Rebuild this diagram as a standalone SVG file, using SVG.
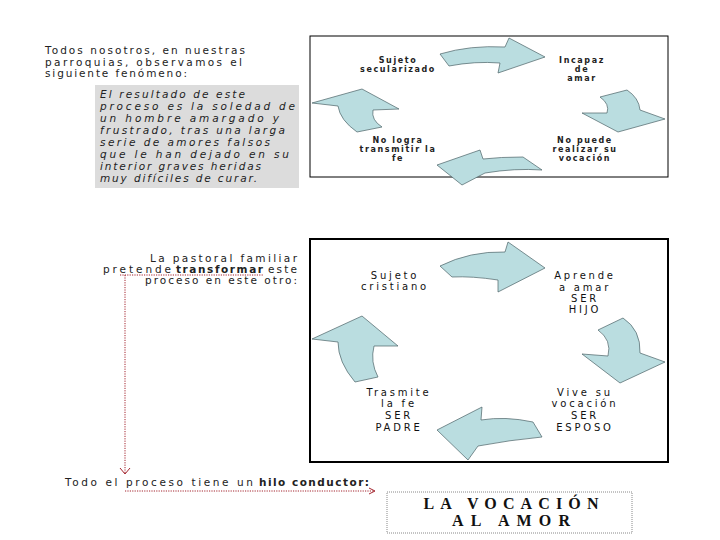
<svg xmlns="http://www.w3.org/2000/svg" width="720" height="540" viewBox="0 0 720 540">
<style>
.para{font-family:"DejaVu Sans",sans-serif;font-size:10.5px;fill:#222}
.ital{font-family:"DejaVu Sans",sans-serif;font-size:10.5px;font-style:italic;fill:#222}
.b{font-weight:bold}
.l1{font-family:"DejaVu Sans",sans-serif;font-size:8px;font-weight:bold;fill:#222;text-anchor:middle;letter-spacing:1.6px}
.l2{font-family:"DejaVu Sans",sans-serif;font-size:10px;fill:#111;text-anchor:middle;letter-spacing:2.8px}
.arr{fill:#badde0;stroke:#4a6266;stroke-width:0.7;stroke-linejoin:round}
.dot{fill:none;stroke:#a3242e;stroke-width:1;stroke-dasharray:1.2 1.2}
.title{font-family:"Liberation Serif",serif;font-size:16px;font-weight:bold;fill:#111;text-anchor:middle}
</style>
<rect width="720" height="540" fill="#fff"/>

<g id="intro">
<text class="para" x="45" y="54" textLength="200" lengthAdjust="spacing">Todos nosotros, en nuestras</text>
<text class="para" x="45" y="65.7" textLength="197" lengthAdjust="spacing">parroquias, observamos el</text>
<text class="para" x="45" y="77.4" textLength="142" lengthAdjust="spacing">siguiente fenómeno:</text>
</g>

<g id="result-box">
<rect x="95" y="85" width="204" height="103" fill="#dcdcdc"/>
<text class="ital" x="100" y="98" textLength="145" lengthAdjust="spacing">El resultado de este</text>
<text class="ital" x="100" y="110" textLength="195" lengthAdjust="spacing">proceso es  la soledad de</text>
<text class="ital" x="100" y="122" textLength="179" lengthAdjust="spacing">un hombre amargado y</text>
<text class="ital" x="100" y="134" textLength="185" lengthAdjust="spacing">frustrado, tras una larga</text>
<text class="ital" x="100" y="146" textLength="170" lengthAdjust="spacing">serie de amores falsos</text>
<text class="ital" x="100" y="158" textLength="189" lengthAdjust="spacing">que le han dejado en su</text>
<text class="ital" x="100" y="170" textLength="161" lengthAdjust="spacing">interior graves heridas</text>
<text class="ital" x="100" y="182" textLength="157" lengthAdjust="spacing">muy difíciles de curar.</text>
</g>

<rect id="frame-top" x="310" y="36" width="358" height="141" fill="none" stroke="#000" stroke-width="1"/>
<rect id="frame-bottom" x="310" y="239" width="358" height="223" fill="none" stroke="#000" stroke-width="2"/>

<g id="connectors">
<!-- top cycle -->
<path class="arr" d="M440,54 Q470,45 505,47 L509,38 L545,57 L498,73 L500,63 Q475,61 449,66 Z"/>
<path class="arr" d="M600,97 L627,90 Q639,98 640,110 L665,119 L618,132 L582,113 L607,113 Q610,104 600,97 Z"/>
<path class="arr" d="M523,157 Q500,157 483,159 L480,150 L437,165 L462,185 L485,173 Q515,168 542,170 Z"/>
<path class="arr" d="M362,89 L399,109 L373,110 Q371,120 382,127 L357,132 Q340,120 338,106 L312,103 Z"/>
<!-- bottom cycle -->
<path class="arr" d="M440,266 Q470,251 505,252 L508,242 L545,268 L498,292 L498,280 Q472,276 452,277 Z"/>
<path class="arr" d="M598,330 L623,318 Q641,330 640,353 L665,362 L620,383 L582,354 L608,356 Q612,340 598,330 Z"/>
<path class="arr" d="M533,422 Q505,416 481,420 L482,407 L437,430 L468,460 L478,446 Q510,440 542,437 Z"/>
<path class="arr" d="M362,316 L398,346 L374,346 Q370,362 378,377 L355,382 Q338,362 338,342 L312,339 Z"/>
<!-- red dotted guide -->
<path class="dot" d="M120,275 L263,275 M125,275 L125,474"/>
<path fill="none" stroke="#a3242e" stroke-width="1" d="M120,468 L125,474 L130,468"/>
<path class="dot" d="M125,491 L374,491"/>
<path fill="none" stroke="#a3242e" stroke-width="1" d="M369,488 L375,491 L369,494"/>
</g>

<g id="n-sujeto-sec"><text class="l1" x="398" y="63">Sujeto</text><text class="l1" x="398" y="72">secularizado</text></g>
<g id="n-incapaz"><text class="l1" x="582" y="63">Incapaz</text><text class="l1" x="582" y="72">de</text><text class="l1" x="582" y="81">amar</text></g>
<g id="n-no-puede"><text class="l1" x="585" y="143">No puede</text><text class="l1" x="585" y="152">realizar su</text><text class="l1" x="585" y="161">vocación</text></g>
<g id="n-no-logra"><text class="l1" x="398" y="143">No logra</text><text class="l1" x="398" y="152">transmitir la</text><text class="l1" x="398" y="161">fe</text></g>

<g id="pastoral">
<text class="para" x="150" y="262" textLength="147" lengthAdjust="spacing">La pastoral familiar</text>
<text class="para" x="103" y="273" textLength="68" lengthAdjust="spacing">pretende</text>
<text class="para b" x="176" y="273" textLength="87" lengthAdjust="spacing">transformar</text>
<text class="para" x="268" y="273" textLength="29" lengthAdjust="spacing">este</text>
<text class="para" x="145" y="284" textLength="152" lengthAdjust="spacing">proceso en este otro:</text>
</g>

<g id="n-sujeto-cri"><text class="l2" x="395" y="279">Sujeto</text><text class="l2" x="395" y="290">cristiano</text></g>
<g id="n-aprende"><text class="l2" x="585" y="279">Aprende</text><text class="l2" x="585" y="291">a amar</text><text class="l2" x="585" y="302">SER</text><text class="l2" x="585" y="313">HIJO</text></g>
<g id="n-vive"><text class="l2" x="585" y="396">Vive su</text><text class="l2" x="585" y="407">vocación</text><text class="l2" x="585" y="419">SER</text><text class="l2" x="585" y="431">ESPOSO</text></g>
<g id="n-trasmite"><text class="l2" x="399" y="396">Trasmite</text><text class="l2" x="399" y="407">la fe</text><text class="l2" x="399" y="419">SER</text><text class="l2" x="399" y="431">PADRE</text></g>

<g id="hilo">
<text class="para" x="65" y="486" textLength="188" lengthAdjust="spacing">Todo el proceso tiene un</text>
<text class="para b" x="259" y="486" textLength="110" lengthAdjust="spacing">hilo conductor:</text>
</g>

<g id="vocacion">
<rect x="387" y="492" width="245" height="41" fill="none" stroke="#888" stroke-width="1" stroke-dasharray="1 1"/>
<text class="title" x="511" y="509" textLength="175" lengthAdjust="spacing">LA VOCACIÓN</text>
<text class="title" x="511" y="526" textLength="118" lengthAdjust="spacing">AL AMOR</text>
</g>
</svg>
